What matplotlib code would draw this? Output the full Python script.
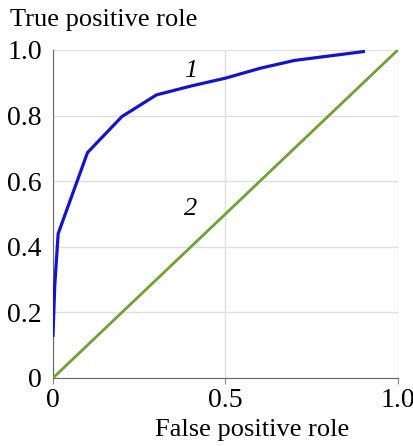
import matplotlib
matplotlib.use("Agg")
import matplotlib.pyplot as plt

# ROC curve (1)
fpr = [0.0, 0.005, 0.015, 0.10, 0.20, 0.30, 0.40, 0.50, 0.60, 0.70, 0.90]
tpr = [0.13, 0.28, 0.44, 0.687, 0.797, 0.863, 0.89, 0.914, 0.944, 0.968, 0.995]

# random guess line (2)
diag_x = [0.0, 1.0]
diag_y = [0.0, 1.0]

xticks = [0, 0.5, 1.0]
xlabels = ["0", "0.5", "1.0"]
yticks = [0, 0.2, 0.4, 0.6, 0.8, 1.0]
ylabels = ["0", "0.2", "0.4", "0.6", "0.8", "1.0"]

plt.rcParams['font.family'] = ['Liberation Serif', 'DejaVu Serif']

fig = plt.figure(figsize=(4.14, 4.46), dpi=100)
ax = fig.add_axes([0.128, 0.1525, 0.833, 0.7355])

ax.plot(diag_x, diag_y, color='#6fa236', lw=2.0, zorder=3)
ax.plot(fpr, tpr, color='#1414c8', lw=2.3, zorder=4)

ax.text(0.40, 0.935, "1", fontsize=19, style='italic', ha='center', va='center')
ax.text(0.40, 0.515, "2", fontsize=19, style='italic', ha='center', va='center')

ax.set_xlim(0, 1.0)
ax.set_ylim(0, 1.0)
ax.set_xticks(xticks)
ax.set_xticklabels(xlabels)
ax.set_yticks(yticks)
ax.set_yticklabels(ylabels)
ax.tick_params(axis='x', labelsize=20, length=4, color='#888888', pad=3)
ax.tick_params(axis='y', labelsize=20, length=0, pad=8)

ax.grid(True, color='#e0e0e0', lw=1.0, zorder=0)
ax.set_axisbelow(True)
ax.spines['top'].set_visible(False)
ax.spines['right'].set_visible(False)
ax.spines['left'].set_color('#666666')
ax.spines['bottom'].set_color('#666666')

fig.text(0.025, 0.955, "True positive role", fontsize=19, ha='left', va='center')
fig.text(0.61, 0.035, "False positive role", fontsize=19, ha='center', va='center')

fig.savefig("out.png", dpi=100)
